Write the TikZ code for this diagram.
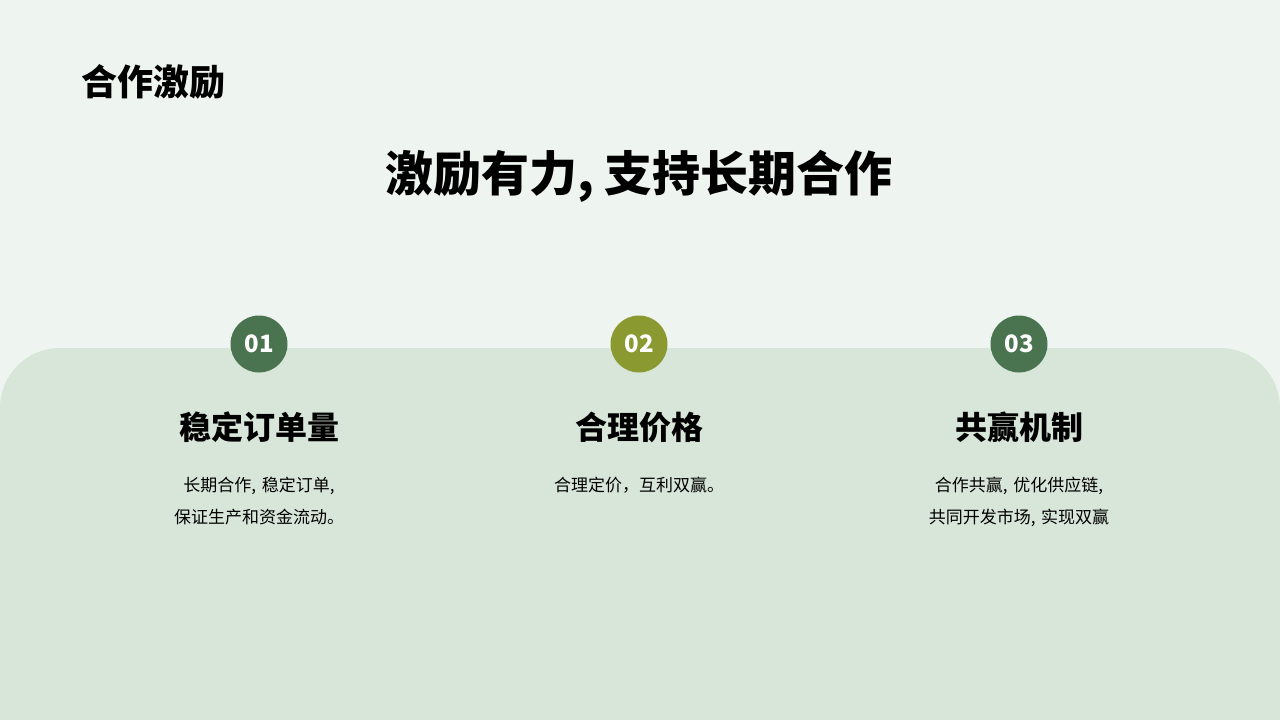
\documentclass[tikz,border=0pt]{standalone}
\usepackage{fontspec}
\setmainfont{Noto Sans CJK SC}
\definecolor{bg}{HTML}{EEF4EF}
\definecolor{panel}{HTML}{D8E6D9}
\definecolor{gA}{HTML}{4A7350}
\definecolor{gB}{HTML}{8B9A30}
\tikzset{num/.style={circle,minimum size=57pt,inner sep=0pt,text=white,font=\fontsize{24}{24}\selectfont\bfseries},
head/.style={font=\fontsize{32}{32}\selectfont\bfseries},
desc/.style={font=\fontsize{17}{32}\selectfont,align=center,text width=320pt}}
\begin{document}
\begin{tikzpicture}[x=1pt,y=-1pt]
\fill[bg] (0,0) rectangle (1280,720);
\useasboundingbox (0,0) rectangle (1280,720);
\fill[panel,rounded corners=60pt] (0,348) rectangle (1280,780);
\node[anchor=west,font=\fontsize{36}{36}\selectfont\bfseries] (t) at (78,82) {合作激励};
\node[font=\fontsize{48}{48}\selectfont\bfseries] (m) at (639,176) {激励有力, 支持长期合作};
\node[num,fill=gA] (n1) at (259,344) {01};
\node[num,fill=gB] (n2) at (639,344) {02};
\node[num,fill=gA] (n3) at (1019,344) {03};
\node[head] (h1) at (259,427) {稳定订单量};
\node[head] (h2) at (639,427) {合理价格};
\node[head] (h3) at (1019,427) {共赢机制};
\node[desc,anchor=north] (d1) at (259,474) {长期合作, 稳定订单, 保证生产和资金流动。};
\node[desc,anchor=north] (d2) at (639,474) {合理定价，互利双赢。};
\node[desc,anchor=north] (d3) at (1019,474) {合作共赢, 优化供应链, 共同开发市场, 实现双赢};
\end{tikzpicture}
\end{document}
